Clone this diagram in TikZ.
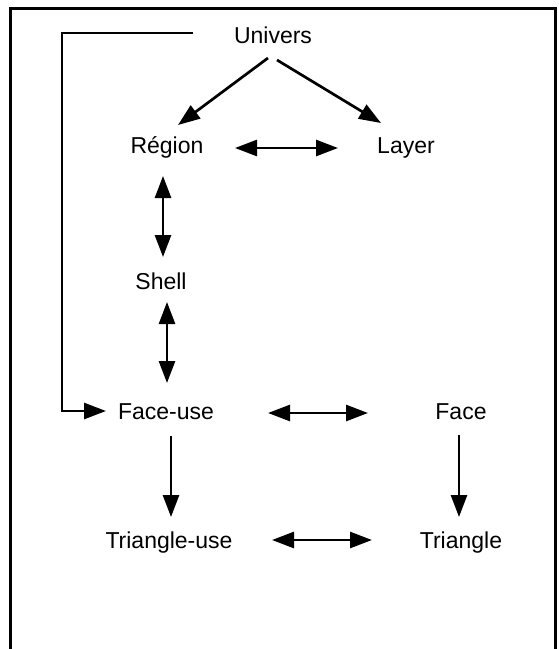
\documentclass[tikz,border=0pt]{standalone}
\usepackage{fontspec}
\setmainfont{Liberation Sans}
\usetikzlibrary{arrows.meta,calc}
\tikzset{
  lbl/.style={anchor=base,inner sep=0pt,font=\fontsize{23}{26}\selectfont},
  conn/.style={line width=2.7pt},
  arr/.style={conn,-{Triangle[length=22pt,width=16pt]}},
  darr/.style={conn,{Triangle[length=22pt,width=16pt]}-{Triangle[length=22pt,width=16pt]}},
  frame/.style={line width=3pt}
}
\begin{document}
\begin{tikzpicture}[x=1pt,y=-1pt]
\useasboundingbox (0,0) rectangle (558,649);
\draw[frame] (10,660) -- (10,8) -- (555,8) -- (555,660);
\node[lbl] (uni) at (273,43) {Univers};
\node[lbl] (reg) at (167,153) {Région};
\node[lbl] (lay) at (406,153) {Layer};
\node[lbl] (shell) at (161,289) {Shell};
\node[lbl] (fu) at (166,419) {Face-use};
\node[lbl] (face) at (461,419) {Face};
\node[lbl] (tu) at (169,548) {Triangle-use};
\node[lbl] (tri) at (461,548) {Triangle};
\draw[arr] ($(uni.base)+(-5,15)$) -- ($(reg.base)+(11,-28)$);
\draw[arr] ($(uni.base)+(4,17)$) -- ($(lay.base)+(-25,-30)$);
\draw[darr] ($(reg.base)+(68,-5)$) -- ($(lay.base)+(-68,-5)$);
\draw[darr] ($(reg.base)+(-4,23)$) -- ($(shell.base)+(2,-32)$);
\draw[darr] ($(shell.base)+(6,13)$) -- ($(fu.base)+(1,-36)$);
\draw[darr] ($(fu.base)+(102,-6)$) -- ($(face.base)+(-93,-6)$);
\draw[arr] ($(fu.base)+(5,17)$) -- ($(tu.base)+(2,-31)$);
\draw[arr] ($(face.base)+(-2,16)$) -- ($(tri.base)+(-2,-31)$);
\draw[darr] ($(tu.base)+(103,-8)$) -- ($(tri.base)+(-89,-8)$);
\coordinate (b1) at (62,33);
\coordinate (b2) at (62,411);
\draw[arr] ($(uni.base)+(-80,-10)$) -- (b1) -- (b2) -- ($(fu.base)+(-60,-8)$);
\end{tikzpicture}
\end{document}
